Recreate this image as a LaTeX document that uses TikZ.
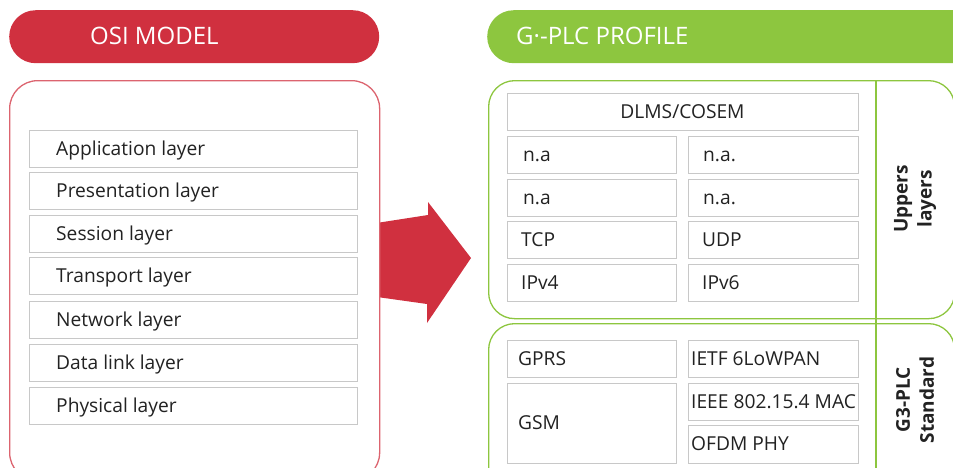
\documentclass[tikz,border=0pt]{standalone}
\usepackage{fontspec}
\setmainfont{Open Sans}
\definecolor{osired}{HTML}{D0303F}
\definecolor{plcgreen}{HTML}{8DC63F}
\definecolor{boxgray}{HTML}{C8C8C8}
\definecolor{txt}{HTML}{222222}
\tikzset{
  layer/.style={draw=boxgray, line width=1.3pt, fill=white, anchor=north west, inner sep=0pt},
  lbl/.style={text=txt, font=\fontsize{19.2}{21}\selectfont, inner sep=0pt},
  head/.style={text=white, font=\fontsize{24}{27}\selectfont, inner sep=0pt, anchor=base west},
  side/.style={text=txt, font=\bfseries\fontsize{19}{24}\selectfont, rotate=90, align=center, inner sep=0pt}
}
\newcommand\lay[7]{%
  \node[layer, minimum width={(#4-#2)*1pt}, minimum height={(#5-#3)*1pt}] (#1) at (#2,#3) {};
  \node[lbl, anchor=base west] (#1t) at (#6,{(#3+#5)/2+6.8}) {#7};}
\begin{document}
\begin{tikzpicture}[x=1pt,y=-1pt]
\useasboundingbox (0,0) rectangle (953,467);
\clip (0,0) rectangle (953,467);
% headers
\node[fill=osired, rounded corners=26.5pt, minimum width=370pt, minimum height=53pt, anchor=north west, inner sep=0pt] (hred) at (9,10) {};
\node[head] (hredt) at (90,44.5) {OSI MODEL};
\node[fill=plcgreen, rounded corners=26.5pt, minimum width=520pt, minimum height=53pt, anchor=north west, inner sep=0pt] (hgreen) at (487,10) {};
\node[head] (hgreent) at (516,44.5) {G·-PLC PROFILE};
% arrow
\fill[osired] (370,224) -- (428,215) -- (428,202) -- (471,258) -- (427,323) -- (427,304) -- (370,296) -- cycle;
% left box
\node[draw=osired!75, line width=1.3pt, fill=white, rounded corners=28pt, minimum width=370pt, minimum height=400pt, anchor=north west, inner sep=0pt] (osi) at (9,80) {};
\lay{l1}{29}{130}{357}{167}{56}{Application layer}
\lay{l2}{29}{172}{357}{209}{56}{Presentation layer}
\lay{l3}{29}{215}{357}{252}{56}{Session layer}
\lay{l4}{29}{257}{357}{294}{56}{Transport layer}
\lay{l5}{29}{301}{357}{338}{56}{Network layer}
\lay{l6}{29}{344}{357}{381}{56}{Data link layer}
\lay{l7}{29}{387}{357}{424}{56}{Physical layer}
% right boxes
\node[draw=plcgreen, line width=1.3pt, rounded corners=26pt, minimum width=466pt, minimum height=238pt, anchor=north west, inner sep=0pt] (upper) at (488,80) {};
\node[draw=plcgreen, line width=1.3pt, rounded corners=26pt, minimum width=466pt, minimum height=170pt, anchor=north west, inner sep=0pt] (lower) at (488,323) {};
\coordinate (vtop) at (876,80);
\coordinate (vbot) at (876,470);
\draw[plcgreen, line width=1.3pt] (vtop) -- (vbot);
\node[layer, minimum width=351pt, minimum height=37pt] (dlms) at (507,93) {};
\node[lbl, anchor=base] (dlmst) at (682.5,{111.5+6.8}) {DLMS/COSEM};
\lay{a1}{507}{136}{676}{173}{523}{n.a}
\lay{b1}{688}{136}{858}{173}{703}{n.a.}
\lay{a2}{507}{179}{676}{216}{523}{n.a}
\lay{b2}{688}{179}{858}{216}{703}{n.a.}
\lay{a3}{507}{221}{676}{258}{521}{TCP}
\lay{b3}{688}{221}{858}{258}{702}{UDP}
\lay{a4}{507}{264}{676}{301}{521}{IPv4}
\lay{b4}{688}{264}{858}{301}{702}{IPv6}
\lay{g1}{507}{340}{676}{377}{518}{GPRS}
\lay{g2}{507}{383}{676}{463}{518}{GSM}
\lay{i1}{688}{340}{858}{377}{691}{IETF 6LoWPAN}
\lay{i2}{688}{383}{858}{420}{691}{IEEE 802.15.4 MAC}
\lay{i3}{688}{425}{858}{463}{691}{OFDM PHY}
\node[side] (upl) at (915,199) {Uppers\\layers};
\node[side] (g3l) at (915,400) {G3-PLC\\Standard};
\end{tikzpicture}
\end{document}
